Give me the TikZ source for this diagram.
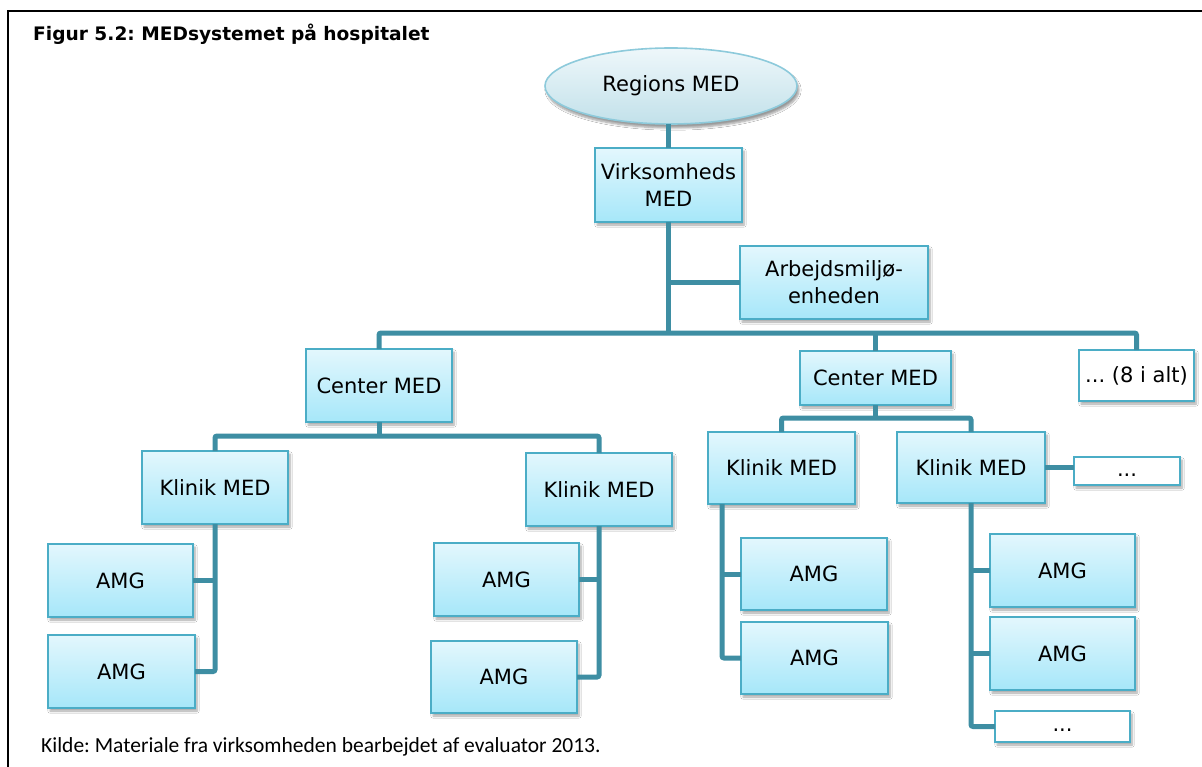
\documentclass[tikz,border=0pt]{standalone}
\usepackage{fontspec}
\setmainfont{DejaVu Sans}
\newfontfamily\notefont{Carlito}
\usetikzlibrary{shapes.geometric,shadows.blur}
\frenchspacing

\definecolor{connclr}{HTML}{3E8EA3}
\definecolor{boxedge}{HTML}{4BADC6}
\definecolor{boxtop}{HTML}{E3F7FD}
\definecolor{boxbot}{HTML}{A6E7F9}
\definecolor{elltop}{HTML}{EEF7FA}
\definecolor{ellbot}{HTML}{C2E1EA}
\definecolor{elledge}{HTML}{8DCADB}

\tikzset{
  orgbox/.style={draw=boxedge, line width=1.6pt, top color=boxtop, bottom color=boxbot,
    inner sep=0pt, outer sep=0pt, align=center,
    font=\fontsize{21}{27}\selectfont,
    blur shadow={shadow xshift=2pt, shadow yshift=-3pt, shadow blur steps=6, shadow opacity=35}},
  blankbox/.style={orgbox, top color=white, bottom color=white},
  orgell/.style={ellipse, draw=elledge, line width=1.6pt, top color=elltop, bottom color=ellbot,
    inner sep=0pt, outer sep=0pt, font=\fontsize{21}{27}\selectfont,
    blur shadow={shadow xshift=2pt, shadow yshift=-4pt, shadow blur steps=6, shadow opacity=40}},
  conn/.style={draw=connclr, line width=5pt, rounded corners=2pt}
}

\begin{document}
\frenchspacing
\begin{tikzpicture}[x=1pt,y=-1pt]
\useasboundingbox (0,0) rectangle (1202,767);
\clip (0,0) rectangle (1202,767);
\fill[white] (0,0) rectangle (1202,767);

% frame
\draw[line width=2pt] (1210,11) -- (8,11) -- (8,780);

% heading and source
\node[anchor=base west, inner sep=0pt, font=\fontsize{18.6}{22}\selectfont\bfseries] (title) at (33,41) {Figur 5.2: MEDsystemet på hospitalet};
\node[anchor=base west, inner sep=0pt, font=\notefont\fontsize{21.5}{25}\selectfont] (source) at (41,752) {Kilde: Materiale fra virksomheden bearbejdet af evaluator 2013.};

% units
\node[orgell, minimum width=252, minimum height=76] (reg) at (671,86) {Regions MED};
\node[orgbox, minimum width=147, minimum height=74] (virk) at (668.5,185) {Virksomheds\\MED};
\node[orgbox, minimum width=188, minimum height=73] (arb) at (834,282.5) {Arbejdsmiljø-\\enheden};

\node[orgbox, minimum width=146, minimum height=73] (c1) at (379,385.5) {Center MED};
\node[orgbox, minimum width=151, minimum height=54] (c2) at (875.5,378) {Center MED};
\node[blankbox, minimum width=115, minimum height=51] (alt) at (1136.5,375.5) {... (8 i alt)};

\node[orgbox, minimum width=146, minimum height=73] (k1) at (215,487.5) {Klinik MED};
\node[orgbox, minimum width=146, minimum height=73] (k2) at (599,489.5) {Klinik MED};
\node[orgbox, minimum width=147, minimum height=72] (k3) at (781.5,468) {Klinik MED};
\node[orgbox, minimum width=148, minimum height=71] (k4) at (971,467.5) {Klinik MED};
\node[blankbox, minimum width=106, minimum height=28] (d4) at (1127,471) {\vphantom{Ag}...};

\node[orgbox, minimum width=145, minimum height=73] (a1) at (120.5,580.5) {AMG};
\node[orgbox, minimum width=147, minimum height=73] (a2) at (121.5,671.5) {AMG};
\node[orgbox, minimum width=145, minimum height=73] (a3) at (506.5,579.5) {AMG};
\node[orgbox, minimum width=146, minimum height=72] (a4) at (504,677) {AMG};
\node[orgbox, minimum width=146, minimum height=72] (a5) at (814,574) {AMG};
\node[orgbox, minimum width=147, minimum height=72] (a6) at (814.5,658) {AMG};
\node[orgbox, minimum width=145, minimum height=73] (a7) at (1062.5,570.5) {AMG};
\node[orgbox, minimum width=145, minimum height=73] (a8) at (1062.5,653.5) {AMG};
\node[blankbox, minimum width=135, minimum height=31] (d8) at (1062.5,726.5) {\vphantom{Ag}...};

% bus levels
\coordinate (busA) at (0,333);
\coordinate (busB) at (0,436);
\coordinate (busC) at (0,418);
\coordinate (k3drop) at (722,504);

% connectors
\draw[conn] (reg.south -| virk.north) -- (virk.north);
\draw[conn] (virk.south) -- (virk.south |- busA);
\draw[conn] (arb.west) -- (arb.west -| virk.south);
\draw[conn] (c1.north) -- (c1.north |- busA) -- (alt.north |- busA) -- (alt.north);
\draw[conn] (c2.north) -- (c2.north |- busA);

\draw[conn] (k1.north) -- (k1.north |- busB) -- (k2.north |- busB) -- (k2.north);
\draw[conn] (c1.south) -- (c1.south |- busB);
\draw[conn] (k3.north) -- (k3.north |- busC) -- (k4.north |- busC) -- (k4.north);
\draw[conn] (c2.south) -- (c2.south |- busC);
\draw[conn] (k4.east) -- (k4.east -| d4.west);

\draw[conn] (k1.south) -- (k1.south |- a2.east) -- (a2.east);
\draw[conn] (a1.east) -- (a1.east -| k1.south);
\draw[conn] (k2.south) -- (k2.south |- a4.east) -- (a4.east);
\draw[conn] (a3.east) -- (a3.east -| k2.south);
\draw[conn] (k3drop) -- (k3drop |- a6.west) -- (a6.west);
\draw[conn] (a5.west) -- (a5.west -| k3drop);
\draw[conn] (k4.south) -- (k4.south |- d8.west) -- (d8.west);
\draw[conn] (a7.west) -- (a7.west -| k4.south);
\draw[conn] (a8.west) -- (a8.west -| k4.south);
\end{tikzpicture}
\end{document}
